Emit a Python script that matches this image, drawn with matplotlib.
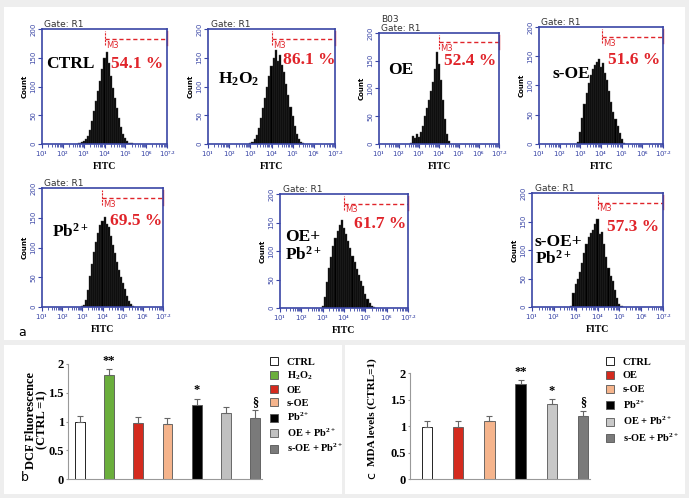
import matplotlib.pyplot as plt
from matplotlib.patches import Rectangle, Patch
import numpy as np

plt.rcParams['mathtext.fontset'] = 'custom'
plt.rcParams['mathtext.rm'] = 'Liberation Serif:bold'
plt.rcParams['mathtext.bf'] = 'Liberation Serif:bold'
plt.rcParams['mathtext.it'] = 'Liberation Serif:bold:italic'
plt.rcParams['mathtext.default'] = 'rm'

# ---------------- data ----------------
# flow cytometry histograms (bin width 0.1 log-decade, counts)
hist_names = ['CTRL', 'H$_2$O$_2$', 'OE', 's-OE', 'Pb$^{2+}$', 'OE+\nPb$^{2+}$', 's-OE+\nPb$^{2+}$']
hist_pct = ['54.1 %', '86.1 %', '52.4 %', '51.6 %', '69.5 %', '61.7 %', '57.3 %']
hist_start = [2.8, 3.0, 2.6, 2.9, 3.0, 3.0, 2.8]
hist_gate = [4.04, 4.03, 3.98, 4.03, 3.99, 4.0, 4.0]
hist_counts = [
    [1, 3, 5, 8, 14, 25, 40, 58, 75, 92, 110, 130, 150, 160, 140, 118, 98, 80, 62, 45, 30, 18, 10, 5, 2, 1],
    [1, 3, 8, 15, 28, 45, 62, 80, 100, 118, 135, 150, 164, 145, 155, 138, 125, 105, 85, 65, 48, 32, 18, 9, 4, 1],
    [2, 15, 10, 18, 12, 22, 32, 50, 65, 80, 95, 112, 135, 165, 145, 115, 80, 45, 18, 5],
    [3, 20, 45, 68, 88, 105, 118, 128, 135, 140, 146, 132, 138, 122, 110, 90, 72, 55, 42, 30, 18, 8, 2],
    [1, 4, 12, 28, 52, 72, 92, 110, 125, 138, 145, 152, 140, 135, 120, 105, 90, 75, 62, 50, 40, 30, 18, 10, 5, 2],
    [3, 20, 45, 70, 90, 108, 122, 135, 145, 155, 140, 130, 118, 105, 92, 80, 68, 58, 48, 38, 25, 15, 8, 3, 1],
    [2, 25, 40, 50, 62, 78, 95, 110, 122, 130, 135, 145, 155, 128, 132, 110, 88, 68, 55, 45, 30, 15, 6, 2],
]
fitc_ticks = [1, 2, 3, 4, 5, 6, 7]
fitc_labels = ['10$^1$', '10$^2$', '10$^3$', '10$^4$', '10$^5$', '10$^6$', '10$^{7.2}$']

# DCF fluorescence (panel b)
dcf_groups = ['CTRL', 'H$_2$O$_2$', 'OE', 's-OE', 'Pb$^{2+}$', 'OE + Pb$^{2+}$', 's-OE + Pb$^{2+}$']
dcf_values = [1.0, 1.81, 0.97, 0.96, 1.29, 1.14, 1.06]
dcf_err = [0.10, 0.10, 0.10, 0.10, 0.11, 0.11, 0.14]
dcf_marks = ['', '**', '', '', '*', '', '§']
dcf_colors = ['white', '#6aae3c', '#d42a1e', '#f5b48c', 'black', '#c0c0c0', '#7a7a7a']

# MDA levels (panel c)
mda_groups = ['CTRL', 'OE', 's-OE', 'Pb$^{2+}$', 'OE + Pb$^{2+}$', 's-OE + Pb$^{2+}$']
mda_values = [0.99, 0.98, 1.09, 1.80, 1.41, 1.19]
mda_err = [0.10, 0.11, 0.09, 0.07, 0.10, 0.10]
mda_marks = ['', '', '', '**', '*', '§']
mda_colors = ['white', '#d42a1e', '#f5b48c', 'black', '#c8c8c8', '#7a7a7a']

# ---------------- figure ----------------
W, H = 689, 498
fig = plt.figure(figsize=(W / 100, H / 100), dpi=100, facecolor='#eeeeee')


def box(l, t, r, b):
    return [l / W, 1 - b / H, (r - l) / W, (b - t) / H]


def white(l, t, r, b):
    fig.patches.append(Rectangle((l / W, 1 - b / H), (r - l) / W, (b - t) / H,
                                 transform=fig.transFigure, facecolor='white',
                                 edgecolor='none', zorder=-5))


white(4, 7, 685, 340)
white(4, 345, 342, 494)
white(345, 345, 685, 494)

blue = '#3a46a6'
red = '#e0242a'
serif = 'Liberation Serif'

# panel boxes (l, t, r, b) in pixels, label/percent anchor in axes fraction
hist_boxes = [(42, 29, 167, 144), (208, 29, 335, 144), (379, 33, 499, 144), (539, 27, 663, 144),
              (42, 188, 163, 307), (280, 194, 408, 308), (532, 193, 663, 307)]
name_pos = [(0.03, 0.70), (0.08, 0.56), (0.08, 0.67), (0.11, 0.60), (0.08, 0.63), (0.04, 0.54), (0.02, 0.49)]
pct_pos = [(0.55, 0.70), (0.59, 0.73), (0.54, 0.75), (0.56, 0.72), (0.56, 0.72), (0.58, 0.74), (0.57, 0.70)]

for i in range(7):
    ax = fig.add_axes(box(*hist_boxes[i]))
    ax.patch.set_alpha(0)
    x = hist_start[i] + 0.1 * np.arange(len(hist_counts[i]))
    ax.bar(x, hist_counts[i], width=0.1, color='black', edgecolor='#444444', linewidth=0.3)
    ax.set_xlim(1, 7)
    ax.set_ylim(0, 200)
    for s in ax.spines.values():
        s.set_color(blue)
        s.set_linewidth(1.2)
    ax.set_yticks([0, 50, 100, 150, 200])
    ax.set_yticklabels(['0', '50', '100', '150', '200'], rotation=90, va='center',
                       fontsize=5, color=blue)
    ax.set_xticks(fitc_ticks)
    ax.set_xticklabels(fitc_labels, fontsize=5, color=blue)
    minors = [d + np.log10(k) for d in range(1, 7) for k in range(2, 10)]
    ax.set_xticks(minors, minor=True)
    ax.tick_params(axis='both', colors=blue, length=3, width=0.8, pad=1)
    ax.tick_params(axis='x', which='minor', colors=blue, length=2.5, width=0.6)
    ax.set_ylabel('Count', fontsize=5, fontweight='bold', labelpad=2)
    ax.set_xlabel('FITC', fontsize=7, fontweight='bold', family=serif, labelpad=2)
    gate_txt = 'B03\nGate: R1' if i == 2 else 'Gate: R1'
    ax.text(0.02, 1.0, gate_txt, transform=ax.transAxes, fontsize=6.5, color='#333333',
            va='bottom', ha='left', linespacing=0.95)
    g = hist_gate[i]
    ax.plot([g, 7], [183, 183], ls=(0, (3, 2)), color=red, lw=1, clip_on=False)
    ax.plot([g, g], [172, 196], ls=(0, (2, 1)), color=red, lw=0.8, clip_on=False)
    ax.plot([7, 7], [172, 196], color=red, lw=1, clip_on=False)
    ax.text(g + 0.06, 180, 'M3', fontsize=6, color=red, va='top', ha='left')
    ax.text(*name_pos[i], hist_names[i], transform=ax.transAxes, fontsize=12.5,
            fontweight='bold', family=serif, va='center', ha='left', linespacing=1.0)
    ax.text(*pct_pos[i], hist_pct[i], transform=ax.transAxes, fontsize=12.5, color=red,
            fontweight='bold', family=serif, va='center', ha='left')

fig.text(18 / W, 1 - 333 / H, 'a', fontsize=9, va='center', ha='left')


def bar_panel(axbox, xlim, values, err, colors, marks, groups, leg_xy, leg_space):
    ax = fig.add_axes(box(*axbox))
    ax.patch.set_alpha(0)
    n = len(values)
    pos = np.arange(n)
    edges = ['black' if c == 'white' else '#555555' for c in colors]
    ax.bar(pos, values, width=0.34, color=colors, edgecolor=edges, linewidth=0.6,
           yerr=[[0] * n, err], capsize=2,
           error_kw=dict(ecolor='#666666', elinewidth=0.8, capthick=0.8), zorder=2)
    for p, v, e, m in zip(pos, values, err, marks):
        if m:
            ax.text(p, v + e + 0.04, m, ha='center', va='bottom', fontsize=9,
                    fontweight='bold', family=serif)
    ax.set_xlim(*xlim)
    ax.set_ylim(0, 2)
    ax.set_yticks([0, 0.5, 1, 1.5, 2])
    ax.set_yticklabels(['0', '0.5', '1', '1.5', '2'], fontsize=9, fontweight='bold', family=serif)
    ax.set_xticks([])
    for s in ['top', 'right']:
        ax.spines[s].set_visible(False)
    for s in ['left', 'bottom']:
        ax.spines[s].set_color('#999999')
        ax.spines[s].set_linewidth(0.8)
    ax.tick_params(axis='y', length=1.5, color='#999999', pad=1.5)
    handles = [Patch(facecolor=c, edgecolor=e, linewidth=0.6) for c, e in zip(colors, edges)]
    ax.legend(handles, groups, loc='upper left', bbox_to_anchor=(leg_xy[0] / W, 1 - leg_xy[1] / H),
              bbox_transform=fig.transFigure, frameon=False, handlelength=0.8, handleheight=0.8,
              handletextpad=0.8, labelspacing=leg_space, borderpad=0, borderaxespad=0,
              prop=dict(family=serif, weight='bold', size=7.5))
    return ax


bar_panel((68, 364, 262, 479), (-0.41, 6.24), dcf_values, dcf_err, dcf_colors, dcf_marks,
          dcf_groups, (270, 357), 0.3)
fig.text(31 / W, 1 - 420 / H, 'DCF Fluorescence', rotation=90, ha='center',
         va='center', fontsize=9, fontweight='bold', family=serif)
fig.text(42 / W, 1 - 420 / H, '(CTRL =1)', rotation=90, ha='center',
         va='center', fontsize=9, fontweight='bold', family=serif)
fig.text(21 / W, 1 - 477 / H, 'b', fontsize=9, va='center', ha='left')

bar_panel((410, 373, 590, 479), (-0.54, 5.22), mda_values, mda_err, mda_colors, mda_marks,
          mda_groups, (606, 357), 0.4)
fig.text(372 / W, 1 - 412 / H, 'MDA levels (CTRL=1)', rotation=90, ha='center',
         va='center', fontsize=8, fontweight='bold', family=serif)
fig.text(372 / W, 1 - 475 / H, 'c', rotation=90, fontsize=9, va='center', ha='center')

fig.savefig('out.png', dpi=100, facecolor=fig.get_facecolor())
